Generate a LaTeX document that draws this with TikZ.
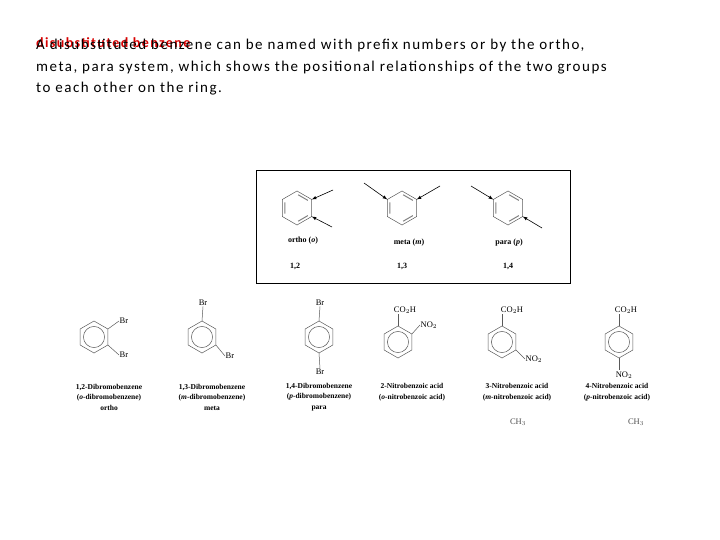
\documentclass[tikz,border=0pt]{standalone}
\usepackage{fontspec}
\setmainfont{Liberation Serif}
\newfontfamily\calfont[LetterSpace=10]{Carlito}
\begin{document}
\begin{tikzpicture}[x=1pt,y=-1pt,
  lbl/.style={inner sep=0.5pt,font=\fontsize{8.5}{9}\selectfont},
  nm/.style={align=center,font=\fontsize{7.5}{10.5}\selectfont\bfseries,inner sep=0},
  tl/.style={inner sep=0,font=\fontsize{8}{9}\selectfont\bfseries},
  bond/.style={line width=0.5pt,gray!70!black},
  arr/.style={-latex,line width=0.6pt}]
\useasboundingbox (0,0) rectangle (720,540);
\newcommand\hexa[3]{\draw[bond,shift={(#1,#2)}] (-90:#3)--(-30:#3)--(30:#3)--(90:#3)--(150:#3)--(210:#3)--cycle;}
\newcommand\kek[3]{\begin{scope}[shift={(#1,#2)}]
  \draw[line width=1pt,gray] (-85:#3*0.78)--(-35:#3*0.78) (35:#3*0.78)--(85:#3*0.78) (155:#3*0.78)--(205:#3*0.78);\end{scope}}
\newcommand\ring[3]{\hexa{#1}{#2}{#3}\draw[bond] (#1,#2) circle ({#3*0.66});}
% text
\node[anchor=base west,inner sep=0,text=red!85!black,font=\calfont\fontsize{14}{16}\selectfont\bfseries] (title) at (36,48) {disubstituted benzene};
\node[anchor=base west,inner sep=0,align=left,font=\calfont\fontsize{15}{21.5}\selectfont] (para) at (36,93)
 {A disubstituted benzene can be named with prefix numbers or by the ortho,\\ meta, para system, which shows the positional relationships of the two groups\\ to each other on the ring.};
% box
\draw[line width=0.8pt] (256,170) rectangle (570,283);
\hexa{297}{208}{17}\kek{297}{208}{17}
\hexa{402}{208}{17}\kek{402}{208}{17}
\hexa{508}{208}{17}\kek{508}{208}{17}
\coordinate (o1) at (311.7,199.5); \coordinate (o2) at (311.7,216.5);
\coordinate (m1) at (387.3,199.5); \coordinate (m2) at (416.7,199.5);
\coordinate (p1) at (493.3,199.5); \coordinate (p2) at (522.7,216.5);
\coordinate (to1) at (333,190); \coordinate (to2) at (332,227);
\coordinate (tm1) at (364,183); \coordinate (tm2) at (440,186);
\coordinate (tp1) at (471,186); \coordinate (tp2) at (542,228);
\foreach \a/\b in {to1/o1,to2/o2,tm1/m1,tm2/m2,tp1/p1,tp2/p2} \draw[arr] (\a) -- (\b);
\node[tl] (lo) at (303,241) {ortho (\textit{o})};
\node[tl] (lm) at (409,243) {meta (\textit{m})};
\node[tl] (lp) at (509,243) {para (\textit{p})};
\node[tl] (no) at (295,266) {1,2};
\node[tl] (nm) at (402,266) {1,3};
\node[tl] (np) at (508,266) {1,4};
% dibromobenzenes
\ring{94}{337}{16}
\node[lbl,anchor=west] (b1) at (119,321) {Br};
\node[lbl,anchor=west] (b2) at (119,355) {Br};
\draw[bond] (107.9,329) -- (b1.west); \draw[bond] (107.9,345) -- (b2.west);
\ring{202}{337}{16}
\node[lbl] (b3) at (203,303) {Br};
\node[lbl,anchor=west] (b4) at (225,356) {Br};
\draw[bond] (202,321) -- (b3.south); \draw[bond] (215.9,345) -- (b4.west);
\ring{319}{337}{16}
\node[lbl] (b5) at (320,303) {Br};
\node[lbl] (b6) at (320,372) {Br};
\draw[bond] (319,321) -- (b5.south); \draw[bond] (319,353) -- (b6.north);
\node[nm] (n1) at (109,397) {1,2-Dibromobenzene\\(\textit{o}-dibromobenzene)\\ortho};
\node[nm] (n2) at (212,397) {1,3-Dibromobenzene\\(\textit{m}-dibromobenzene)\\meta};
\node[nm] (n3) at (319,397) {1,4-Dibromobenzene\\(\textit{p}-dibromobenzene)\\para};
% nitrobenzoic acids
\ring{398}{342}{16}
\node[lbl] (c1) at (405,310) {CO$_2$H};
\node[lbl,anchor=west] (d1) at (420,325) {NO$_2$};
\draw[bond] (398,326) -- (398,314); \draw[bond] (411.9,334) -- (d1.west);
\ring{502}{342}{16}
\node[lbl] (c2) at (512,310) {CO$_2$H};
\node[lbl,anchor=west] (d2) at (525,359) {NO$_2$};
\draw[bond] (502,326) -- (502,314); \draw[bond] (515.9,350) -- (d2.west);
\ring{619}{342}{16}
\node[lbl] (c3) at (626,310) {CO$_2$H};
\node[lbl] (d3) at (624,375) {NO$_2$};
\draw[bond] (619,326) -- (619,314); \draw[bond] (619,358) -- (619,370);
\node[nm] (n4) at (412,392) {2-Nitrobenzoic acid\\(\textit{o}-nitrobenzoic acid)};
\node[nm] (n5) at (517,392) {3-Nitrobenzoic acid\\(\textit{m}-nitrobenzoic acid)};
\node[nm] (n6) at (617,392) {4-Nitrobenzoic acid\\(\textit{p}-nitrobenzoic acid)};
\node[lbl,text=gray!60!black] (h1) at (518,422) {CH$_3$};
\node[lbl,text=gray!60!black] (h2) at (636,422) {CH$_3$};
\end{tikzpicture}
\end{document}
